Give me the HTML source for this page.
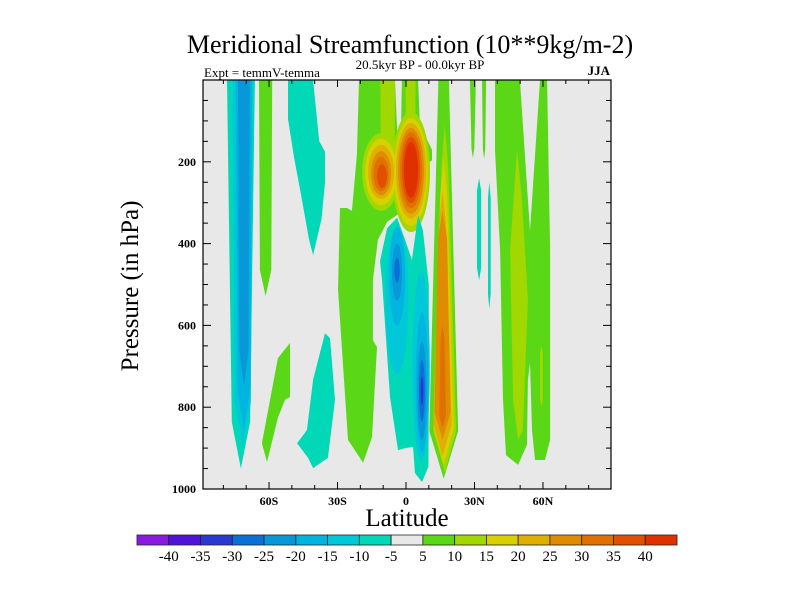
<!DOCTYPE html>
<html><head><meta charset="utf-8"><style>
html,body{margin:0;padding:0;background:#fff;}
svg{display:block;font-family:"Liberation Serif",serif;}
</style></head><body>
<svg id="chart" width="800" height="600" viewBox="0 0 800 600" xmlns="http://www.w3.org/2000/svg">
<rect width="800" height="600" fill="#fff"/>
<text x="410" y="53" font-size="26" text-anchor="middle">Meridional Streamfunction (10**9kg/m-2)</text>
<text x="204" y="77" font-size="13">Expt = temmV-temma</text>
<text x="420" y="69" font-size="13" text-anchor="middle">20.5kyr BP - 00.0kyr BP</text>
<text x="610" y="75" font-size="13" text-anchor="end" font-weight="bold">JJA</text>
<defs><clipPath id="plotclip"><rect x="203" y="80" width="408" height="409"/></clipPath></defs>
<rect x="203" y="80" width="408" height="409" fill="#e8e8e8"/>
<g id="marks" clip-path="url(#plotclip)"></g>
<g id="axes"></g>
<text x="407" y="526" font-size="25" text-anchor="middle">Latitude</text>
<text transform="translate(138,286) rotate(-90)" font-size="25" text-anchor="middle">Pressure (in hPa)</text>
<g id="colorbar"></g>
</svg>
<script>
// contour levels and colours
const levelBounds = [-45,-40,-35,-30,-25,-20,-15,-10,-5,5,10,15,20,25,30,35,40,45];
const levelColors = ["#8a1ae0","#5014d8","#2838d0","#0a70d8","#0898d8","#00b4e0","#00c8d8","#00d8b8","#e8e8e8","#5ad818","#a0d800","#d8d000","#e0b000","#e08c00","#e07000","#e05000","#e03000"];
const colorbarLabels = ["-40","-35","-30","-25","-20","-15","-10","-5","5","10","15","20","25","30","35","40"];
const xTickLabels = ["60S","30S","0","30N","60N"];
const xTickValues = [-60,-30,0,30,60];
const yTickValues = [200,400,600,800,1000];
// columns: [lat, pTop, pBottom, halfWidthTop, halfWidthBottom, value]
const columns = [
 [-72.3,0,950,6.1,4.0,-7],[-71.5,0,897,4.5,3.5,-12],[-71,0,855,3.5,2.8,-17],[-71,0,750,2.6,2.0,-22],
 [-61.5,0,528,2.9,2.5,7],
 [-8,0,230,3.2,3.0,12],[2,0,200,2.2,2.0,12],
 [16.5,0,975,2.3,6.3,7],[17,110,960,1.5,5,12],[16.5,190,940,1.5,4.5,17],[16,270,920,1.5,4,22],[16,320,880,2,3.5,27],[16,600,850,0.8,1.5,32],
 [29.3,0,191,1.3,0.6,7],[34.2,0,193,0.9,0.5,7],[32.0,240,490,0.9,0.9,-7],[36.5,250,560,0.6,0.6,-7],
 [59.3,650,800,0.6,0.6,12]
];
// blobs: [lat, p, radiusLat, radiusP, value]
const blobs = [
 [-10.9,225,8.3,95,12],[-10.9,225,7,81,17],[-10.9,225,5.7,66,22],[-10.9,228,4.4,54,27],[-10.9,230,3.3,42,32],[-10.5,235,2.2,29,37],
 [2.2,225,8.3,147,12],[2.2,225,7.4,132,17],[2.2,222,6.6,117,22],[2.2,222,5.7,105,27],[2.2,220,4.8,93,32],[2.2,220,3.9,81,37],[2.2,220,3.1,68,42],
 [-3.9,538,5,180,-12],[-3.9,480,3.5,120,-17],[-3.9,470,2.2,70,-22],[-3.9,465,1.2,30,-27],
 [6.6,700,3.8,230,-12],[7.0,740,2.8,170,-17],[7.0,760,2.0,120,-22],[7.0,760,1.3,75,-27],[7.0,760,0.6,35,-32]
];
// polygons in (lat, hPa) with value
const polyValues = [7,7,12,-7,-7,7,-7];
const polyPoints = [
 [[-20.6,0],[-4.8,0],[-3.9,122],[-2.2,122],[-1.8,0],[5.3,0],[6.1,110],[11.4,171],[11.4,196],[7.0,215],[5.3,300],[-3.9,330],[-8.3,347],[-12.3,391],[-14.5,489],[-14.5,636],[-12.7,653],[-14.9,873],[-18.8,936],[-21.0,917],[-25.4,880],[-29.8,513],[-28.9,313],[-25.8,313],[-23.7,320],[-21.5,183]],
 [[39.0,0],[49.9,0],[54.3,369],[58.7,0],[61.8,0],[63.1,416],[63.1,880],[60.9,929],[56.5,929],[55.2,856],[54.3,692],[53.4,734],[53.0,892],[49.1,941],[43.8,917],[42.5,782],[41.2,416],[39.0,171]],
 [[48.6,171],[50.8,293],[53.4,538],[51.2,856],[49.1,880],[46.9,782],[45.6,416]],
 [[-3.9,337],[-0.4,391],[2.6,440],[5.3,330],[7.4,367],[10.0,501],[10.0,782],[9.8,946],[7.0,983],[3.9,961],[3.1,897],[-0.4,900],[-3.5,905],[-7.0,775],[-10.5,489],[-11.4,443],[-8.3,362]],
 [[-51.7,0],[-40.7,0],[-38,150],[-35.5,175],[-35.5,250],[-37,340],[-40.7,428],[-42.5,390],[-46,280],[-49,190],[-51.7,95]],
 [[-50.8,643],[-56.1,680],[-63.1,888],[-60.9,934],[-56.1,826],[-53,782],[-50.8,775]],
 [[-35.5,619],[-33.3,631],[-31.1,782],[-34.2,924],[-40.7,949],[-42.9,924],[-47.7,888],[-43.4,856],[-40.7,733]]
];

const NS="http://www.w3.org/2000/svg";
const X0=406, XS=2.283, Y0=80, YS=409/1000;
function xScale(lat){return X0+lat*XS;}
function yScale(p){return Y0+p*YS;}
function colorFor(v){for(let i=0;i<levelColors.length;i++){if(v>=levelBounds[i]&&v<levelBounds[i+1])return levelColors[i];}return levelColors[levelColors.length-1];}
const marks=document.getElementById('marks');
const features=[];
polyPoints.forEach((pts,i)=>features.push({type:'poly',v:polyValues[i],pts:pts}));
columns.forEach(c=>features.push({type:'col',v:c[5],c:c}));
blobs.forEach(b=>features.push({type:'blob',v:b[4],b:b}));
features.sort((a,b)=>{const sa=a.v<0?1:0, sb=b.v<0?1:0; if(sa!==sb)return sa-sb; return Math.abs(a.v)-Math.abs(b.v);});
features.forEach(f=>{
  let el;
  if(f.type==='poly'){
    el=document.createElementNS(NS,'polygon');
    el.setAttribute('points',f.pts.map(p=>xScale(p[0]).toFixed(1)+','+yScale(p[1]).toFixed(1)).join(' '));
    
  } else if(f.type==='col'){
    const [lat,pt,pb,hwt,hwb]=f.c; const r=pb-pt, tip=0.12*r;
    let pts=[];
    if(pt>0){pts.push([lat,pt]);pts.push([lat+hwt,pt+tip]);} else {pts.push([lat-hwt,pt]);pts.push([lat+hwt,pt]);}
    pts.push([lat+hwb,pb-tip]);pts.push([lat,pb]);pts.push([lat-hwb,pb-tip]);
    if(pt>0)pts.push([lat-hwt,pt+tip]);
    el=document.createElementNS(NS,'polygon');
    el.setAttribute('points',pts.map(p=>xScale(p[0]).toFixed(1)+','+yScale(p[1]).toFixed(1)).join(' '));
    
  } else {
    const [lat,p,rl,rp]=f.b;
    el=document.createElementNS(NS,'ellipse');
    el.setAttribute('cx',xScale(lat));el.setAttribute('cy',yScale(p));
    el.setAttribute('rx',rl*XS);el.setAttribute('ry',rp*YS);
    
  }
  
  el.setAttribute('fill',colorFor(f.v));
  marks.appendChild(el);
});
// axes
const axes=document.getElementById('axes');
function line(x1,y1,x2,y2,w,name){const l=document.createElementNS(NS,'line');l.setAttribute('x1',x1);l.setAttribute('y1',y1);l.setAttribute('x2',x2);l.setAttribute('y2',y2);l.setAttribute('stroke','#000');l.setAttribute('stroke-width',w);


axes.appendChild(l);}
const frame=document.createElementNS(NS,'rect');frame.setAttribute('x',203);frame.setAttribute('y',80);frame.setAttribute('width',408);frame.setAttribute('height',409);frame.setAttribute('fill','none');frame.setAttribute('stroke','#000');frame.setAttribute('stroke-width',1.2);


axes.appendChild(frame);
for(let lat=-80;lat<=80;lat+=10){const x=xScale(lat);const L=(lat%30===0)?7:4;line(x,489,x,489-L,1,'x-tick');line(x,80,x,80+L,1,'x-tick-top');}
for(let p=50;p<1000;p+=50){const y=yScale(p);const L=(p%200===0)?8:5;line(203,y,203+L,y,1,'y-tick');line(611,y,611-L,y,1,'y-tick-right');}
xTickValues.forEach((v,i)=>{const t=document.createElementNS(NS,'text');t.setAttribute('x',xScale(v));t.setAttribute('y',505);t.setAttribute('font-size','12');t.setAttribute('font-weight','bold');t.setAttribute('text-anchor','middle');t.textContent=xTickLabels[i];


axes.appendChild(t);});
yTickValues.forEach(v=>{const t=document.createElementNS(NS,'text');t.setAttribute('x',196);t.setAttribute('y',yScale(v)+4);t.setAttribute('font-size','12');t.setAttribute('font-weight','bold');t.setAttribute('text-anchor','end');t.textContent=String(v);


axes.appendChild(t);});
// colorbar
const cb=document.getElementById('colorbar');
const cbX=137, cbW=540/levelColors.length;
levelColors.forEach((c,i)=>{const r=document.createElementNS(NS,'rect');r.setAttribute('x',cbX+i*cbW);r.setAttribute('y',535);r.setAttribute('width',cbW);r.setAttribute('height',10);r.setAttribute('fill',c);r.setAttribute('stroke','#222');r.setAttribute('stroke-width','0.8');


cb.appendChild(r);});
colorbarLabels.forEach((s,i)=>{const t=document.createElementNS(NS,'text');t.setAttribute('x',cbX+(i+1)*cbW);t.setAttribute('y',561);t.setAttribute('font-size','15');t.setAttribute('text-anchor','middle');t.textContent=s;


cb.appendChild(t);});
</script>
</body></html>
